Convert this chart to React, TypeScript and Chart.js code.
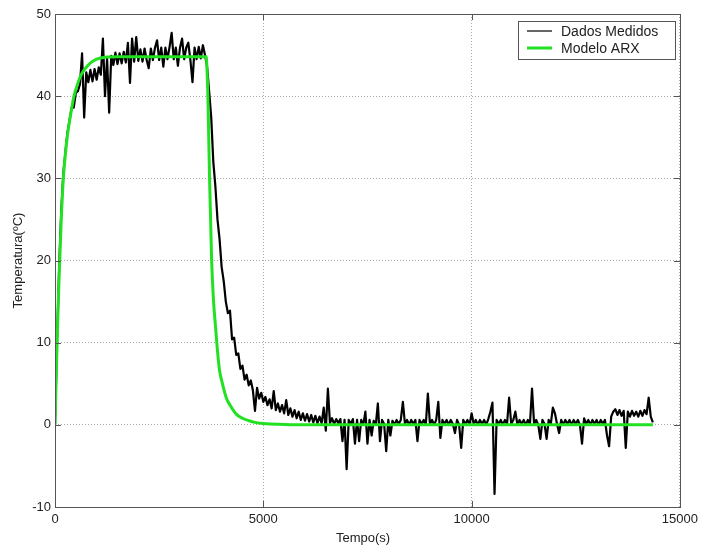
import React, { useEffect, useRef } from "react";
import { Chart, registerables } from "chart.js";

Chart.register(...registerables);

// ---- data ----
const sampleIntervalS = 50; // measured series sampled every 50 s, starting at t = 0

const measuredTemp: number[] = [
  0, 10.5, 19.2, 26.0, 30.6, 33.2, 35.6, 37.1, 38.6, 38.6,
  40.4, 40.6, 41.5, 45.2, 37.4, 42.9, 41.7, 43.2, 41.8, 43.3,
  42.0, 43.5, 42.6, 47.0, 40.0, 44.6, 38.0, 44.9, 43.8, 45.3,
  43.9, 45.2, 44.0, 45.4, 44.1, 46.5, 41.6, 47.0, 44.2, 47.2,
  44.3, 45.7, 44.2, 45.8, 44.4, 43.4, 45.8, 44.4, 45.9, 46.8,
  44.4, 45.9, 43.6, 45.9, 44.5, 46.0, 47.7, 44.5, 45.9, 43.7,
  45.9, 47.0, 44.5, 45.9, 46.5, 44.4, 41.7, 45.9, 44.5, 46.0,
  44.6, 46.2, 45.0, 43.6, 40.6, 37.4, 32.0, 29.0, 25.0, 22.6,
  19.2, 17.5, 15.0, 13.6, 13.9, 10.4, 10.6, 8.5, 8.7, 6.8,
  7.2, 5.5, 6.1, 4.8, 5.4, 4.2, 1.7, 4.5, 3.2, 3.9,
  2.8, 3.4, 2.4, 3.1, 2.0, 4.1, 1.8, 2.6, 1.6, 2.4,
  1.4, 3.0, 1.2, 2.0, 1.0, 1.8, 0.8, 1.6, 0.6, 1.4,
  0.5, 1.3, 0.4, 1.2, 0.3, 1.1, 0.2, 1.0, 0.2, 2.1,
  -0.7, 4.4, 0.2, 0.8, 0.1, 0.7, 0.2, 0.7, -2.0, 0.6,
  -5.4, 0.6, 0.1, 0.7, -2.3, 0.6, -2.0, 0.6, 0.0, 1.6,
  -2.3, 0.6, -1.3, 0.5, 0.0, 2.6, -2.0, 0.6, 0.1, -3.2,
  0.6, -1.3, 0.5, 0.0, 0.6, 0.1, 0.6, 2.8, 0.1, 0.6,
  0.0, 0.6, 0.1, 0.6, -2.0, 0.6, 0.1, 0.6, 0.0, 3.8,
  0.1, 0.6, 0.0, 0.6, 2.8, -1.6, 0.6, 0.1, 0.6, 0.0,
  0.6, 0.1, -1.0, 0.6, 0.0, -2.8, 0.6, 0.1, 0.6, 0.0,
  1.4, 0.1, 0.6, 0.0, 0.6, 0.1, 0.6, 0.0, 0.7, 1.6,
  2.7, -8.4, 0.6, 0.1, 0.6, 0.0, 0.6, 0.1, 3.3, 0.1,
  0.6, 1.6, 0.0, 0.6, 0.1, 0.6, 0.0, 0.6, 0.1, 4.4,
  0.1, 0.6, 0.0, -1.7, 0.6, 0.1, -1.7, 0.6, 0.1, 2.1,
  1.4, 0.1, -1.0, 0.6, 0.0, 0.6, 0.1, 0.6, 0.0, 0.6,
  0.1, 0.6, 0.0, -2.3, 0.8, 0.1, 0.6, 0.0, 0.6, 0.1,
  0.6, 0.0, 0.6, 0.1, 0.6, -1.3, -2.6, 1.0, 1.6, 1.9,
  1.2, 1.8, 1.1, 1.7, -2.8, 1.6, 1.0, 1.7, 1.1, 1.6,
  1.0, 1.7, 1.1, 1.8, 1.3, 3.3, 1.0, 0.3,
];

const modelTime: number[] = [
  0, 25, 50, 75, 100, 150, 200, 250, 300, 350, 400, 455, 500, 600, 700, 840,
  1000, 1200, 1500, 2000, 3000, 3630, 3650, 3670, 3690, 3710, 3735, 3760,
  3800, 3860, 3900, 3950, 4000, 4110, 4200, 4350, 4500, 4660, 4800, 5000,
  5500, 6000, 8000, 10000, 12000, 14350,
];
const modelTemp: number[] = [
  0, 5.2, 9.9, 14.3, 18.2, 25.0, 30.0, 33.0, 35.3, 37.0, 38.5, 40.0, 40.8,
  42.3, 43.2, 44.0, 44.5, 44.75, 44.8, 44.8, 44.8, 44.8, 43.0, 40.0, 35.0,
  30.0, 25.0, 20.0, 15.5, 11.5, 9.0, 6.6, 5.4, 3.3, 2.4, 1.3, 0.8, 0.5, 0.3,
  0.15, 0.05, 0, 0, 0, 0, 0,
];

const seriesLabels = ["Dados Medidos", "Modelo ARX"];
const xTicks = [0, 5000, 10000, 15000];
const yTicks = [-10, 0, 10, 20, 30, 40, 50];
const xTitle = "Tempo(s)";
const yTitle = "Temperatura(ºC)";

// ---- styles ----
const FONT = "'Liberation Sans', Arial, Helvetica, sans-serif";
const FRAME_COLOR = "#555555";
const TEXT_COLOR = "#222222";
const MEASURED_COLOR = "#000000";
const MODEL_COLOR = "#22e022";

const matlabPlugin = {
  id: "matlabFrame",
  afterDraw(chart: any) {
    const { ctx, chartArea } = chart;
    const { left, right, top, bottom } = chartArea;
    const xs = chart.scales.x;
    const ys = chart.scales.y;
    ctx.save();
    // box frame
    ctx.strokeStyle = FRAME_COLOR;
    ctx.lineWidth = 1;
    ctx.setLineDash([]);
    ctx.strokeRect(Math.round(left) + 0.5, Math.round(top) + 0.5, Math.round(right - left), Math.round(bottom - top));
    // inner tick marks
    const tl = 6;
    ctx.beginPath();
    xTicks.forEach((v) => {
      const px = Math.round(xs.getPixelForValue(v)) + 0.5;
      ctx.moveTo(px, bottom);
      ctx.lineTo(px, bottom - tl);
      ctx.moveTo(px, top);
      ctx.lineTo(px, top + tl);
    });
    yTicks.forEach((v) => {
      const py = Math.round(ys.getPixelForValue(v)) + 0.5;
      ctx.moveTo(left, py);
      ctx.lineTo(left + tl, py);
      ctx.moveTo(right, py);
      ctx.lineTo(right - tl, py);
    });
    ctx.stroke();

    // legend
    const lx = 518, ly = 21, lw = 157, lh = 38;
    ctx.fillStyle = "#ffffff";
    ctx.fillRect(lx, ly, lw, lh);
    ctx.strokeStyle = FRAME_COLOR;
    ctx.lineWidth = 1;
    ctx.strokeRect(lx + 0.5, ly + 0.5, lw, lh);
    const rows = [
      { y: 31, color: MEASURED_COLOR, width: 1.2, label: chart.data.datasets[0].label },
      { y: 48, color: MODEL_COLOR, width: 3, label: chart.data.datasets[1].label },
    ];
    ctx.font = `14px ${FONT}`;
    ctx.textBaseline = "middle";
    ctx.textAlign = "left";
    rows.forEach((r) => {
      ctx.strokeStyle = r.color;
      ctx.lineWidth = r.width;
      ctx.beginPath();
      ctx.moveTo(527, r.y);
      ctx.lineTo(552, r.y);
      ctx.stroke();
      ctx.fillStyle = TEXT_COLOR;
      ctx.fillText(r.label, 561, r.y + 1);
    });

    // axis titles
    ctx.fillStyle = TEXT_COLOR;
    ctx.font = `13px ${FONT}`;
    ctx.textAlign = "center";
    ctx.textBaseline = "middle";
    ctx.fillText(xTitle, 363, 538);
    ctx.translate(18, (top + bottom) / 2);
    ctx.rotate(-Math.PI / 2);
    ctx.fillText(yTitle, 0, 0);
    ctx.restore();
  },
};

export default function App() {
  const canvasRef = useRef<HTMLCanvasElement | null>(null);

  useEffect(() => {
    document.body.style.margin = "0";
    document.body.style.background = "#ffffff";
    const canvas = canvasRef.current;
    if (!canvas) return;

    const measuredPoints = measuredTemp.map((y, i) => ({ x: i * sampleIntervalS, y }));
    const modelPoints = modelTime.map((x, i) => ({ x, y: modelTemp[i] }));

    const chart = new Chart(canvas, {
      type: "line",
      data: {
        datasets: [
          {
            label: seriesLabels[0],
            data: measuredPoints,
            borderColor: MEASURED_COLOR,
            borderWidth: 2.2,
            borderJoinStyle: "round",
            pointRadius: 0,
            tension: 0,
            order: 2,
          },
          {
            label: seriesLabels[1],
            data: modelPoints,
            borderColor: MODEL_COLOR,
            borderWidth: 3,
            pointRadius: 0,
            cubicInterpolationMode: "monotone",
            order: 1,
          },
        ],
      },
      options: {
        responsive: false,
        animation: false,
        devicePixelRatio: 1,
        layout: { padding: { top: 14, right: 22, left: 0, bottom: 0 } },
        plugins: {
          legend: { display: false },
          tooltip: { enabled: false },
          title: { display: false },
        },
        scales: {
          x: {
            type: "linear",
            min: 0,
            max: 15000,
            afterBuildTicks: (s: any) => {
              s.ticks = xTicks.map((v) => ({ value: v }));
            },
            afterFit: (s: any) => {
              s.height = 41;
            },
            ticks: {
              padding: 5,
              maxRotation: 0,
              autoSkip: false,
              color: TEXT_COLOR,
              font: { family: FONT, size: 13 },
              callback: (v: any) => String(v),
            },
            grid: { color: "#a8a8a8", lineWidth: 1, drawTicks: false },
            border: { display: false, dash: [1, 2] },
          },
          y: {
            type: "linear",
            min: -10,
            max: 50,
            afterBuildTicks: (s: any) => {
              s.ticks = yTicks.map((v) => ({ value: v }));
            },
            afterFit: (s: any) => {
              s.width = 55;
            },
            ticks: {
              padding: 4,
              autoSkip: false,
              color: TEXT_COLOR,
              font: { family: FONT, size: 13 },
              callback: (v: any) => String(v),
            },
            grid: { color: "#a8a8a8", lineWidth: 1, drawTicks: false },
            border: { display: false, dash: [1, 2] },
          },
        },
      },
      plugins: [matlabPlugin],
    } as any);

    return () => chart.destroy();
  }, []);

  return (
    <canvas
      ref={canvasRef}
      width={703}
      height={548}
      style={{ display: "block", width: 703, height: 548, background: "#ffffff" }}
    />
  );
}
